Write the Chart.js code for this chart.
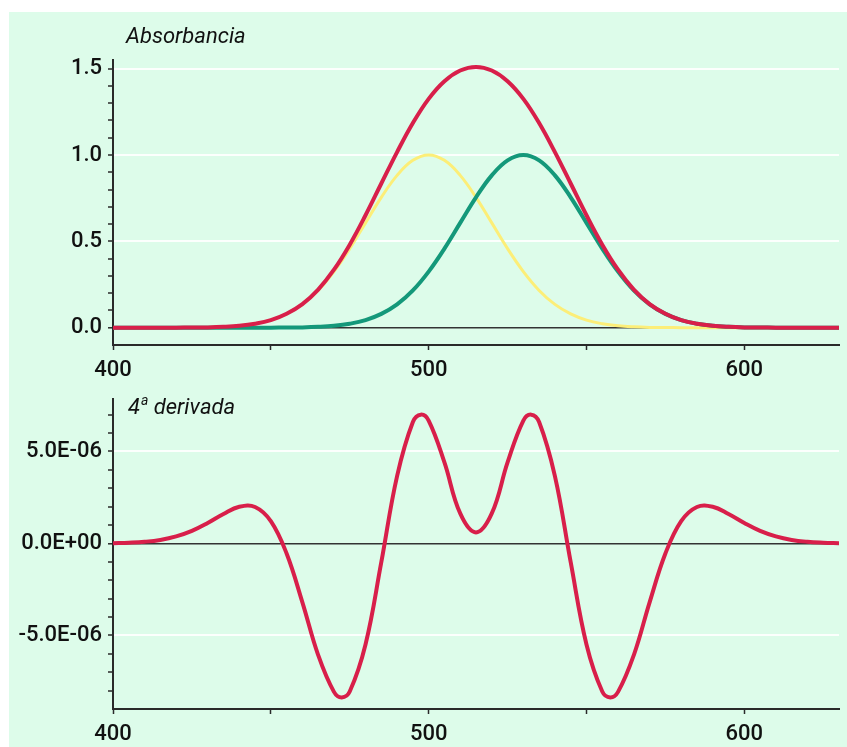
<!DOCTYPE html>
<html>
<head>
<meta charset="utf-8">
<script src="https://cdn.jsdelivr.net/npm/chart.js@4.4.1/dist/chart.umd.min.js"></script>
<style>
  html, body { margin: 0; padding: 0; background: #ffffff; }
  #wrap { position: absolute; left: 9px; top: 12px; width: 838px; height: 735px; background: #ddfcea; }
  #c1 { position: absolute; left: 0; top: 0; }
  #c2 { position: absolute; left: 0; top: 373px; }
</style>
</head>
<body>
<div id="wrap">
  <canvas id="c1" width="838" height="373"></canvas>
  <canvas id="c2" width="838" height="362"></canvas>
</div>
<script>
// ---------------- DATA ----------------
const wavelengths = [400,405,410,415,420,425,430,435,440,445,450,455,460,465,470,475,480,485,490,495,
                     500,505,510,515,520,525,530,535,540,545,550,555,560,565,570,575,580,585,590,595,
                     600,605,610,615,620,625,630];
const absYellow = [0,0,0,0,0.0003,0.001,0.002,0.005,0.011,0.023,0.044,0.080,0.135,0.216,0.325,0.458,0.607,0.755,0.882,0.969,
                   1.000,0.969,0.882,0.755,0.607,0.458,0.325,0.216,0.135,0.080,0.044,0.023,0.011,0.005,0.002,0.001,0.0003,0,0,0,
                   0,0,0,0,0,0,0];
const absGreen  = [0,0,0,0,0,0,0,0,0,0,0.0003,0.001,0.002,0.005,0.011,0.023,0.044,0.080,0.135,0.216,
                   0.325,0.458,0.607,0.755,0.882,0.969,1.000,0.969,0.882,0.755,0.607,0.458,0.325,0.216,0.135,0.080,0.044,0.023,0.011,0.005,
                   0.002,0.001,0.0003,0,0,0,0];
const absRed    = [0,0,0,0,0.0003,0.001,0.002,0.005,0.011,0.023,0.044,0.081,0.137,0.221,0.336,0.481,0.651,0.835,1.017,1.185,
                   1.325,1.427,1.489,1.510,1.489,1.427,1.325,1.185,1.017,0.835,0.651,0.481,0.336,0.221,0.137,0.081,0.044,0.023,0.011,0.005,
                   0.002,0.001,0.0003,0,0,0,0];

const derivWavelengths = [400,405,410,415,420,425,430,435,440,445,450,455,460,465,470,472.5,475,480,485,490,495,497.5,
                          500,505,510,515,520,525,530,532.5,535,540,545,550,555,557.5,560,565,570,575,580,585,590,595,
                          600,605,610,615,620,625,630];
const deriv4 = [0.01e-6,0.04e-6,0.09e-6,0.19e-6,0.38e-6,0.68e-6,1.11e-6,1.60e-6,1.99e-6,1.98e-6,1.21e-6,-0.55e-6,-3.20e-6,-6.07e-6,-8.07e-6,-8.37e-6,-8.05e-6,-5.49e-6,-1.02e-6,3.66e-6,6.60e-6,7.00e-6,
                6.68e-6,4.40e-6,1.63e-6,0.60e-6,1.63e-6,4.40e-6,6.68e-6,7.00e-6,6.60e-6,3.66e-6,-1.02e-6,-5.49e-6,-8.05e-6,-8.37e-6,-8.07e-6,-6.07e-6,-3.20e-6,-0.55e-6,1.21e-6,1.98e-6,1.99e-6,1.60e-6,
                1.11e-6,0.68e-6,0.38e-6,0.19e-6,0.09e-6,0.04e-6,0.01e-6];

const xTickValues  = [400,450,500,550,600];
const xTickLabels  = [400,500,600];
const absYTicks    = [0,0.1,0.2,0.3,0.4,0.5,0.6,0.7,0.8,0.9,1.0,1.1,1.2,1.3,1.4,1.5];
const absYLabels   = [0,0.5,1.0,1.5];
const derYTicks    = [-8e-6,-7e-6,-6e-6,-5e-6,-4e-6,-3e-6,-2e-6,-1e-6,0,1e-6,2e-6,3e-6,4e-6,5e-6,6e-6,7e-6];
const derYLabels   = [-5e-6,0,5e-6];
const titles       = ['Absorbancia', '4ª derivada'];

// ---------------- STYLE ----------------
const FONT = "Roboto, sans-serif";
const TXT = '#111111';
const AXIS = '#2a2a2a';
const RED = '#d81f4a';
const GREEN = '#14987a';
const YELLOW = '#fcee78';

function near(list, v, tol) { return list.some(l => Math.abs(l - v) < tol); }
function sci(v) {
  if (Math.abs(v) < 1e-12) return '0.0E+00';
  const s = v.toExponential(1);
  const parts = s.split('e');
  const sign = parts[1][0] === '-' ? '-' : '+';
  const digits = parts[1].replace(/[+-]/, '').padStart(2, '0');
  return parts[0] + 'E' + sign + digits;
}

const cornerTitle = {
  id: 'cornerTitle',
  afterDraw(chart, args, opts) {
    const ctx = chart.ctx;
    ctx.save();
    ctx.fillStyle = TXT;
    ctx.textBaseline = 'alphabetic';
    let x = chart.chartArea.left + opts.dx;
    const y = opts.y;
    for (const ch of opts.text) {
      if (ch === 'ª') {
        ctx.font = 'italic 14px ' + FONT;
        ctx.fillText('a', x + 1, y - 9);
        x += ctx.measureText('a').width + 1;
      } else {
        ctx.font = 'italic 22px ' + FONT;
        ctx.fillText(ch, x, y);
        x += ctx.measureText(ch).width;
      }
    }
    ctx.restore();
  }
};

function xScale(h) {
  return {
    type: 'linear', min: 400, max: 630,
    afterBuildTicks: s => { s.ticks = xTickValues.map(v => ({ value: v })); },
    afterFit: s => { s.height = h; s.paddingLeft = 0; s.paddingRight = 0; },
    ticks: {
      autoSkip: false, maxRotation: 0, padding: 7,
      color: TXT, font: { family: FONT, size: 22, weight: '500' },
      callback: v => near(xTickLabels, v, 1e-6) ? String(v) : ''
    },
    grid: { drawOnChartArea: false, drawTicks: true, tickLength: 5, tickColor: AXIS, tickWidth: 1.5 },
    border: { display: true, color: AXIS, width: 2 }
  };
}

function yScale(min, max, ticks, labels, tol, fmt) {
  return {
    type: 'linear', min: min, max: max,
    afterBuildTicks: s => { s.ticks = ticks.map(v => ({ value: v })); },
    afterFit: s => { s.width = 104; s.paddingTop = 0; s.paddingBottom = 0; },
    ticks: {
      autoSkip: false, padding: 6,
      color: TXT, font: { family: FONT, size: 22, weight: '500' },
      callback: v => near(labels, v, tol) ? fmt(v) : ''
    },
    grid: {
      drawTicks: true, tickLength: 5, tickColor: AXIS, tickWidth: 1.5,
      color: c => {
        const v = c.tick ? c.tick.value : null;
        if (v === null) return 'rgba(0,0,0,0)';
        if (Math.abs(v) < tol) return '#333333';
        if (near(labels, v, tol)) return 'rgba(255,255,255,0.9)';
        return 'rgba(0,0,0,0)';
      },
      lineWidth: c => {
        const v = c.tick ? c.tick.value : 1;
        return Math.abs(v) < tol ? 1.6 : 2;
      }
    },
    border: { display: true, color: AXIS, width: 2 }
  };
}

function pts(xs, ys) { return xs.map((x, i) => ({ x: x, y: ys[i] })); }

new Chart(document.getElementById('c1'), {
  type: 'line',
  data: {
    datasets: [
      { data: pts(wavelengths, absRed), borderColor: RED, borderWidth: 4, pointRadius: 0, tension: 0.4, fill: false },
      { data: pts(wavelengths, absGreen), borderColor: GREEN, borderWidth: 4, pointRadius: 0, tension: 0.4, fill: false },
      { data: pts(wavelengths, absYellow), borderColor: YELLOW, borderWidth: 3, pointRadius: 0, tension: 0.4, fill: false }
    ]
  },
  options: {
    responsive: false, animation: false,
    layout: { padding: { top: 48, right: 8, left: 0, bottom: 0 } },
    plugins: { legend: { display: false }, tooltip: { enabled: false },
               cornerTitle: { text: titles[0], dx: 13, y: 31 } },
    scales: {
      x: xScale(40),
      y: yScale(-0.1, 1.55, absYTicks, absYLabels, 1e-6, v => v.toFixed(1))
    }
  },
  plugins: [cornerTitle]
});

new Chart(document.getElementById('c2'), {
  type: 'line',
  data: {
    datasets: [
      { data: pts(derivWavelengths, deriv4), borderColor: RED, borderWidth: 4, pointRadius: 0, tension: 0.4, fill: false }
    ]
  },
  options: {
    responsive: false, animation: false,
    layout: { padding: { top: 14, right: 8, left: 0, bottom: 0 } },
    plugins: { legend: { display: false }, tooltip: { enabled: false },
               cornerTitle: { text: titles[1], dx: 15, y: 29 } },
    scales: {
      x: xScale(38),
      y: yScale(-9e-6, 7.85e-6, derYTicks, derYLabels, 1e-9, sci)
    }
  },
  plugins: [cornerTitle]
});
</script>
</body>
</html>
